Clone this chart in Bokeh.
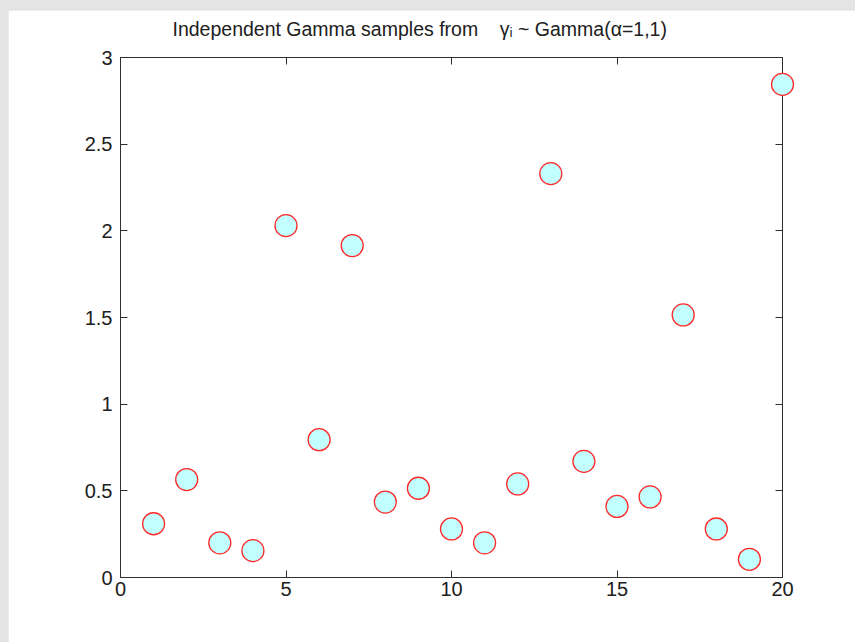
from bokeh.plotting import figure
from bokeh.models import Range1d, LinearAxis, FixedTicker, Column
from bokeh.core.properties import value
from bokeh.embed import file_html
from bokeh.resources import INLINE

# ---- data ----
sample_index = list(range(1, 21))
gamma_values = [0.31, 0.565, 0.20, 0.155, 2.03, 0.795, 1.915, 0.435, 0.515, 0.28,
                0.20, 0.54, 2.33, 0.67, 0.41, 0.465, 1.515, 0.28, 0.105, 2.845]
x_ticks = [0, 5, 10, 15, 20]
y_ticks = [0, 0.5, 1, 1.5, 2, 2.5, 3]
y_tick_labels = ["0", "0.5", "1", "1.5", "2", "2.5", "3"]
title_text = "Independent Gamma samples from\u00a0\u00a0\u00a0 \u03b3\u1d62 ~ Gamma(\u03b1=1,1)"

FONT = "Liberation Sans"
AX = "#303030"
FRAME_W, FRAME_H = 662, 520
X0, X1, Y0, Y1 = 0, 20, 0, 3

p = figure(frame_width=FRAME_W, frame_height=FRAME_H,
           min_border_left=112, min_border_right=73,
           min_border_top=47, min_border_bottom=65,
           x_range=Range1d(X0, X1), y_range=Range1d(Y0, Y1),
           output_backend="svg", toolbar_location=None,
           x_axis_location=None, y_axis_location=None)
p.margin = (10, 0, 0, 8)
p.xgrid.visible = False
p.ygrid.visible = False
p.background_fill_color = "white"
p.border_fill_color = "white"
p.outline_line_color = AX
p.outline_line_width = 1

# title: placed 52 px right of the frame's left edge, just above its top
title_x = X0 + 52 / FRAME_W * (X1 - X0)
title_y = Y1 + 29 / FRAME_H * (Y1 - Y0)
p.text(x=[title_x], y=[title_y], text=[title_text],
       text_font=value(FONT), text_font_size="19.5px", text_color="#202020",
       text_baseline="alphabetic", text_align="left", level="overlay")

def make_axis(show_labels, overrides=None, ticks=None):
    ax = LinearAxis(ticker=FixedTicker(ticks=ticks))
    ax.axis_line_color = AX
    ax.major_tick_line_color = AX
    ax.major_tick_in = 7
    ax.major_tick_out = 0
    ax.minor_tick_line_color = None
    if overrides:
        ax.major_label_overrides = overrides
    if show_labels:
        ax.major_label_text_font = FONT
        ax.major_label_text_font_size = "20px"
        ax.major_label_text_color = "#202020"
    else:
        ax.major_label_text_font_size = "1px"
        ax.major_label_text_color = None
        ax.major_label_standoff = 0
    return ax

yover = {t: l for t, l in zip(y_ticks, y_tick_labels)}
xover = {t: str(t) for t in x_ticks}

bottom = make_axis(True, xover, x_ticks)
bottom.major_label_standoff = 4
left = make_axis(True, yover, y_ticks)
left.major_label_standoff = 8
top = make_axis(False, None, x_ticks)
right = make_axis(False, None, y_ticks)
p.add_layout(bottom, "below")
p.add_layout(left, "left")
p.add_layout(top, "above")
p.add_layout(right, "right")

p.scatter(sample_index, gamma_values, size=22, marker="circle",
          fill_color="#c2ffff", line_color="#ff2a2a", line_width=1.3,
          level="overlay")

layout = Column(children=[p], styles={"background-color": "#e4e4e4"},
                width=855, height=642)

open("out.html", "w").write(file_html(layout, INLINE))
